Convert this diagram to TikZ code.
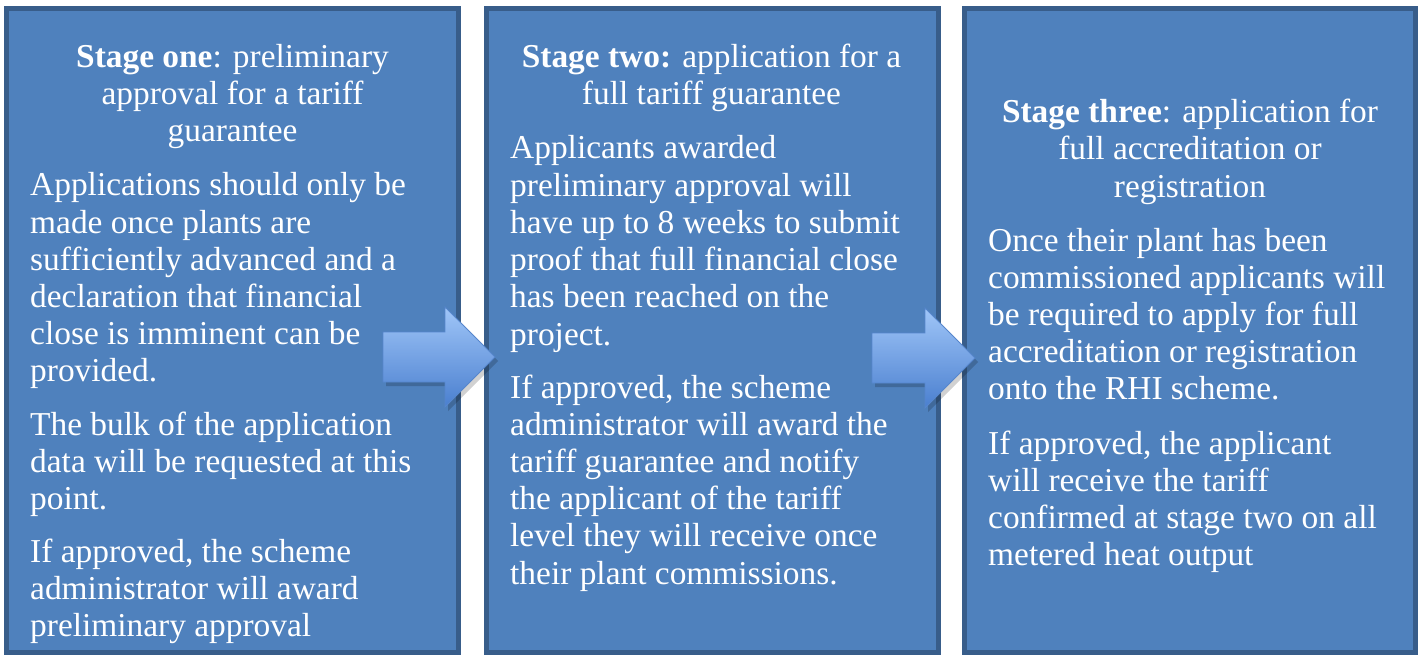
\documentclass[tikz,border=0pt]{standalone}
\usepackage{fontspec}
\setmainfont{Liberation Serif}
\definecolor{boxfill}{HTML}{4F81BD}
\definecolor{boxline}{HTML}{385D8A}
\definecolor{arrtop}{HTML}{A0C6F8}
\definecolor{arrbot}{HTML}{4A7FCF}
\definecolor{arrline}{HTML}{5686CC}
\begin{document}
\begin{tikzpicture}[x=1pt,y=1pt,
  stagebox/.style={fill=boxfill, draw=boxline, line width=5pt, anchor=north west, inner sep=0pt, outer sep=0pt},
  txt/.style={text=white, font=\fontsize{33.4}{37}\selectfont, inner sep=0pt, anchor=base west},
  head/.style={txt, anchor=base},
  blockarrow/.style={top color=arrtop, bottom color=arrbot, draw=arrline, line width=0.8pt, line join=miter},
  arrowshadow/.style={fill=black, opacity=0.18}]
\useasboundingbox (0,0) rectangle (1423,-655);
\fill[white] (0,0) rectangle (1423,-655);

% boxes
\node[stagebox, minimum width=452, minimum height=643.5] (box1) at (6.5,-8.5) {};
\node[stagebox, minimum width=452, minimum height=643.5] (box2) at (486.5,-8.5) {};
\node[stagebox, minimum width=451, minimum height=643.5] (box3) at (964.5,-8.5) {};

% box 1 text
\node[head] (h1a) at (232.5,-68) {\textbf{Stage one}: preliminary};
\node[head] (h1b) at (232.5,-105) {approval for a tariff};
\node[head] (h1c) at (232.5,-142) {guarantee};
\foreach \l [count=\i] in {{Applications should only be},{made once plants are},{sufficiently advanced and a},{declaration that financial},{close is imminent can be},{provided.}}
  \node[txt] (b1p1-\i) at (30,{-196-37*(\i-1)}) {\l};
\foreach \l [count=\i] in {{The bulk of the application},{data will be requested at this},{point.}}
  \node[txt] (b1p2-\i) at (30,{-435-37*(\i-1)}) {\l};
\foreach \l [count=\i] in {{If approved, the scheme},{administrator will award},{preliminary approval}}
  \node[txt] (b1p3-\i) at (30,{-562-37*(\i-1)}) {\l};

% box 2 text
\node[head] (h2a) at (711.5,-68) {\textbf{Stage two:} application for a};
\node[head] (h2b) at (711.5,-105) {full tariff guarantee};
\foreach \l [count=\i] in {{Applicants awarded},{preliminary approval will},{have up to 8 weeks to submit},{proof that full financial close},{has been reached on the},{project.}}
  \node[txt] (b2p1-\i) at (510,{-159-37.2*(\i-1)}) {\l};
\foreach \l [count=\i] in {{If approved, the scheme},{administrator will award the},{tariff guarantee and notify},{the applicant of the tariff},{level they will receive once},{their plant commissions.}}
  \node[txt] (b2p2-\i) at (510,{-398-37.2*(\i-1)}) {\l};

% box 3 text
\node[head] (h3a) at (1190,-123) {\textbf{Stage three}: application for};
\node[head] (h3b) at (1190,-160) {full accreditation or};
\node[head] (h3c) at (1190,-197) {registration};
\foreach \l [count=\i] in {{Once their plant has been},{commissioned applicants will},{be required to apply for full},{accreditation or registration},{onto the RHI scheme.}}
  \node[txt] (b3p1-\i) at (988,{-251-37.2*(\i-1)}) {\l};
\foreach \l [count=\i] in {{If approved, the applicant},{will receive the tariff},{confirmed at stage two on all},{metered heat output}}
  \node[txt] (b3p2-\i) at (988,{-454-37.2*(\i-1)}) {\l};

% block arrows
\fill[arrowshadow] (386,-336) -- (448,-336) -- (448,-311) -- (498,-361) -- (448,-411) -- (448,-386) -- (386,-386) -- cycle;
\path[blockarrow] (383,-332) -- (445,-332) -- (445,-307) -- (495,-357) -- (445,-407) -- (445,-382) -- (383,-382) -- cycle;
\fill[arrowshadow] (875,-337) -- (928,-337) -- (928,-312) -- (978,-362) -- (928,-412) -- (928,-387) -- (875,-387) -- cycle;
\path[blockarrow] (872,-333) -- (925,-333) -- (925,-308) -- (975,-358) -- (925,-408) -- (925,-383) -- (872,-383) -- cycle;
\end{tikzpicture}
\end{document}
